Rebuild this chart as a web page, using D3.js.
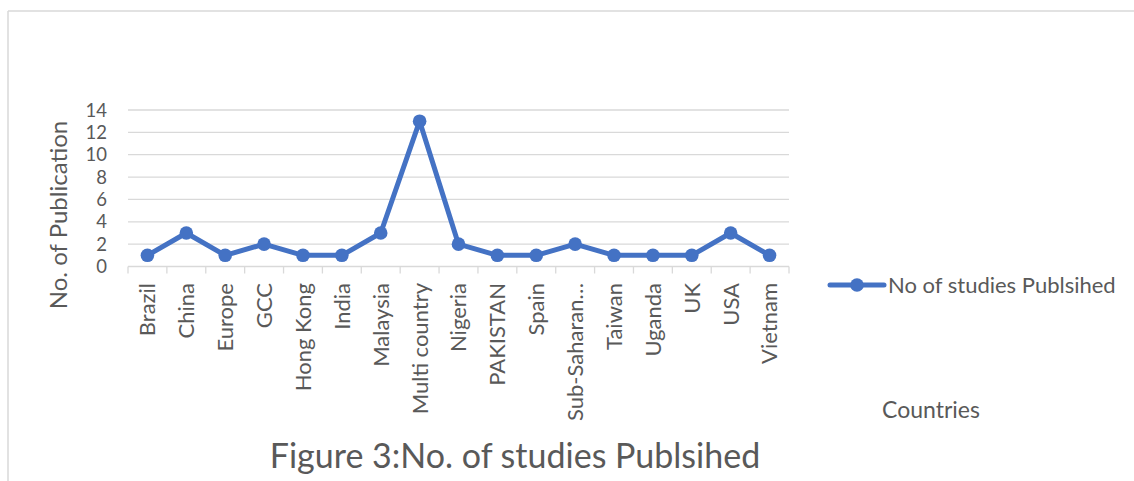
<!DOCTYPE html>
<html>
<head>
<meta charset="utf-8">
<script src="https://cdn.jsdelivr.net/npm/d3@7"></script>
<style>
  html, body { margin: 0; padding: 0; background: #fff; }
  svg { display: block; }
  text { font-family: Lato, "Open Sans", sans-serif; fill: #595959; }
</style>
</head>
<body>
<svg id="chart" width="1134" height="481"></svg>
<script>
const categories = ["Brazil", "China", "Europe", "GCC", "Hong Kong", "India", "Malaysia", "Multi country", "Nigeria", "PAKISTAN", "Spain", "Sub-Saharan…", "Taiwan", "Uganda", "UK", "USA", "Vietnam"];
const values = [1, 3, 1, 2, 1, 1, 3, 13, 2, 1, 1, 2, 1, 1, 1, 3, 1];
const yTicks = [0, 2, 4, 6, 8, 10, 12, 14];
const seriesName = "No of studies Publsihed";
const yTitle = "No. of Publication";
const xTitle = "Countries";
const chartTitle = "Figure 3:No. of studies Publsihed";

const svg = d3.select("#chart");
const color = "#4472C4";
const grid = "#d9d9d9";

// outer chart border (top and left visible)
svg.append("line").attr("x1", 8).attr("y1", 11).attr("x2", 1134).attr("y2", 11)
  .attr("stroke", grid).attr("stroke-width", 1.5);
svg.append("line").attr("x1", 8).attr("y1", 11).attr("x2", 8).attr("y2", 481)
  .attr("stroke", grid).attr("stroke-width", 1.5);

const x = d3.scaleBand().domain(categories).range([128, 789]).paddingInner(0).paddingOuter(0);
const y = d3.scaleLinear().domain([0, 14]).range([266.5, 110]);

// gridlines
svg.append("g").selectAll("line").data(yTicks.filter(d => d > 0)).join("line")
  .attr("x1", 128).attr("x2", 789)
  .attr("y1", d => y(d)).attr("y2", d => y(d))
  .attr("stroke", grid).attr("stroke-width", 1.3);

// y tick labels
svg.append("g").selectAll("text").data(yTicks).join("text")
  .attr("x", 107).attr("y", d => y(d)).attr("dy", "0.36em")
  .attr("text-anchor", "end").attr("font-size", 18.5)
  .text(d => d);

// x axis line and ticks
const xa = svg.append("g");
xa.append("line").attr("x1", 128).attr("x2", 789).attr("y1", y(0)).attr("y2", y(0))
  .attr("stroke", grid).attr("stroke-width", 1.3);
const bounds = categories.map(c => x(c)).concat([x(categories[categories.length - 1]) + x.bandwidth()]);
xa.selectAll("line.tk").data(bounds).join("line").attr("class", "tk")
  .attr("x1", d => d).attr("x2", d => d).attr("y1", y(0)).attr("y2", y(0) + 7)
  .attr("stroke", grid).attr("stroke-width", 1.3);

// category labels
xa.selectAll("text").data(categories).join("text")
  .attr("transform", d => `translate(${x(d) + x.bandwidth() / 2},283) rotate(-90)`)
  .attr("dy", "0.36em").attr("text-anchor", "end").attr("font-size", 22)
  .text(d => d);

// line
const line = d3.line().x((d, i) => x(categories[i]) + x.bandwidth() / 2).y(d => y(d));
svg.append("path").datum(values).attr("d", line)
  .attr("fill", "none").attr("stroke", color).attr("stroke-width", 5)
  .attr("stroke-linejoin", "round").attr("stroke-linecap", "round");
svg.append("g").selectAll("circle").data(values).join("circle")
  .attr("cx", (d, i) => x(categories[i]) + x.bandwidth() / 2).attr("cy", d => y(d))
  .attr("r", 6.8).attr("fill", color);

// y axis title
svg.append("text").attr("transform", "translate(58,215) rotate(-90)")
  .attr("dy", "0.36em").attr("text-anchor", "middle").attr("font-size", 24)
  .text(yTitle);

// legend
const lg = svg.append("g");
lg.append("line").attr("x1", 830).attr("x2", 884).attr("y1", 285).attr("y2", 285)
  .attr("stroke", color).attr("stroke-width", 5).attr("stroke-linecap", "round");
lg.append("circle").attr("cx", 857).attr("cy", 285).attr("r", 6.8).attr("fill", color);
lg.append("text").attr("x", 888).attr("y", 285).attr("dy", "0.36em").attr("font-size", 22)
  .text(seriesName);

// x axis title
svg.append("text").attr("x", 931).attr("y", 418).attr("text-anchor", "middle").attr("font-size", 23)
  .text(xTitle);

// chart title
svg.append("text").attr("x", 515).attr("y", 468).attr("text-anchor", "middle").attr("font-size", 34)
  .text(chartTitle);
</script>
</body>
</html>
